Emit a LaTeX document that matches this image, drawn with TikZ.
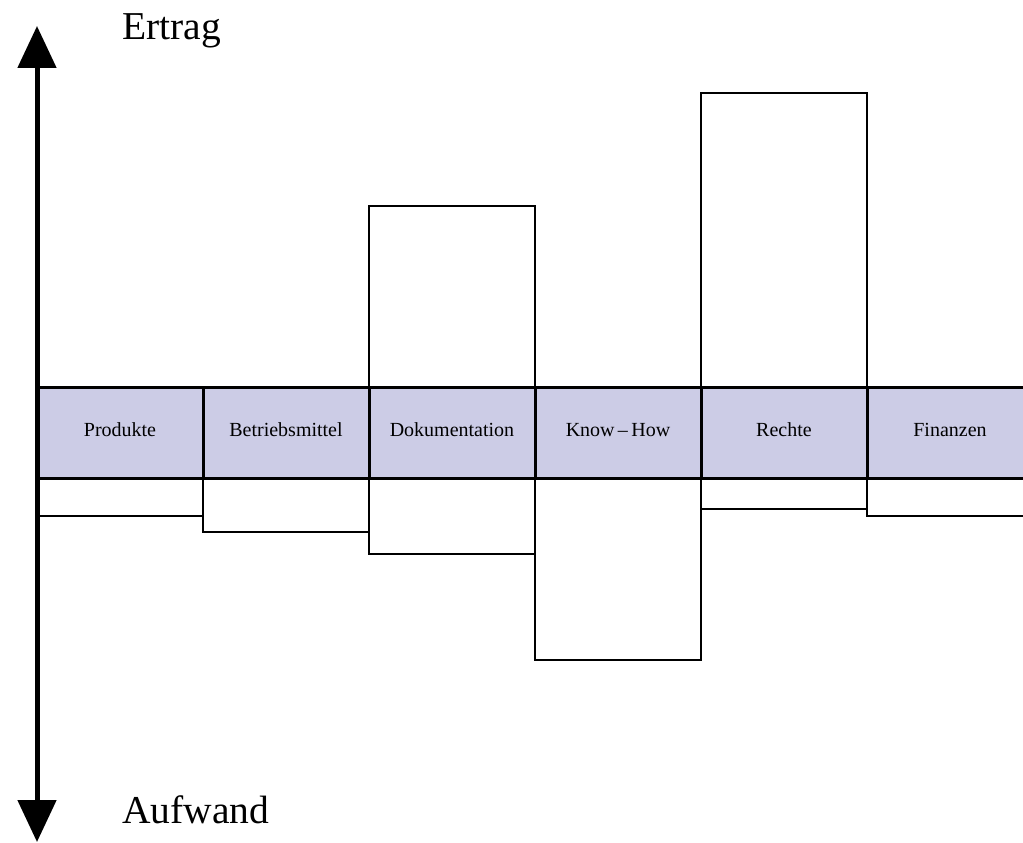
\documentclass[tikz,border=0pt]{standalone}
\usepackage{fontspec}
\setmainfont{Liberation Serif}
\usetikzlibrary{arrows.meta}
\definecolor{bandfill}{RGB}{204,204,230}
\tikzset{
  cell/.style={draw=black, line width=3pt, fill=bandfill, minimum width=166pt, minimum height=91pt,
    inner sep=0pt, outer sep=0pt, font=\fontsize{20}{24}\selectfont, text height=0.7em, text depth=0pt},
  bar/.style={draw=black, line width=2.5pt, line join=miter},
  axislabel/.style={font=\fontsize{39.5}{46}\selectfont, anchor=base west, inner sep=0pt},
  axis/.style={line width=5pt, {Triangle[length=42pt,width=38pt]}-{Triangle[length=42pt,width=38pt]}}
}
\begin{document}
\begin{tikzpicture}[x=1pt,y=-1pt]
\useasboundingbox (0,0) rectangle (1023,843);
\node[cell] (pro) at (120,432.5) {Produkte};
\node[cell] (bet) at (286,432.5) {Betriebsmittel};
\node[cell] (dok) at (452,432.5) {Dokumentation};
\node[cell] (kno) at (618,432.5) {Know{\,}–{\,}How};
\node[cell] (rec) at (784,432.5) {Rechte};
\node[cell] (fin) at (950,432.5) {Finanzen};
% Ertrag bars (upward)
\draw[bar] (dok.north west) -- ++(0,-181) -| (dok.north east);
\draw[bar] (rec.north west) -- ++(0,-294) -| (rec.north east);
% Aufwand bars (downward)
\draw[bar] (pro.south west) -- ++(0,38) -| (pro.south east);
\draw[bar] (bet.south west) -- ++(0,54) -| (bet.south east);
\draw[bar] (dok.south west) -- ++(0,76) -| (dok.south east);
\draw[bar] (kno.south west) -- ++(0,182) -| (kno.south east);
\draw[bar] (rec.south west) -- ++(0,31) -| (rec.south east);
\draw[bar] (fin.south west) -- ++(0,38) -| (fin.south east);
% axis
\coordinate (top) at (37,26);
\coordinate (bot) at (37,842);
\draw[axis] (bot) -- (top);
\node[axislabel] (ertrag) at (122,40) {Ertrag};
\node[axislabel] (aufwand) at (122,823) {Aufwand};
\end{tikzpicture}
\end{document}
